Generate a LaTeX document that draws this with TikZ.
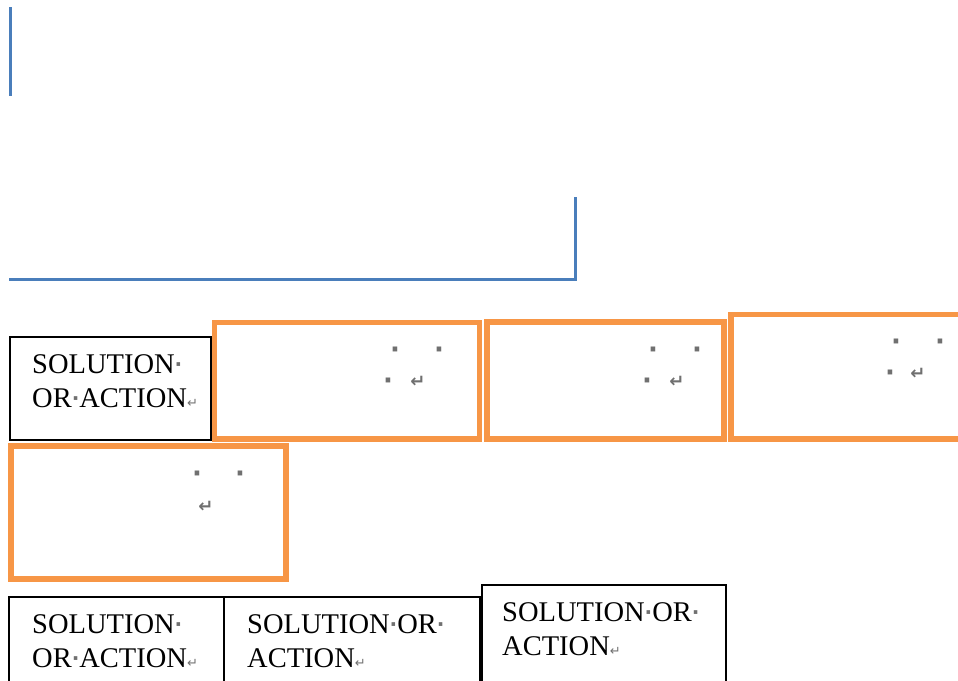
\documentclass[tikz,border=0pt]{standalone}
\usepackage{fontspec}
\setmainfont{Liberation Serif}
\newfontfamily\symfont{DejaVu Sans}
\definecolor{wordorange}{HTML}{F79646}
\definecolor{wordblue}{HTML}{4A7EBB}
\definecolor{fmtgray}{HTML}{707070}
% formatting marks: space dot and paragraph return
\newcommand{\spcmark}{{\color{fmtgray}\symfont\bfseries\fontsize{20}{20}\selectfont\raisebox{2pt}{·}}}
\newcommand{\retmark}{{\color{fmtgray}\symfont\fontsize{13}{13}\selectfont ↵}}
\tikzset{
  guide/.style={draw=wordblue, line width=3pt},
  tablebox/.style={draw=black, line width=2pt, rectangle, inner sep=0pt, outer sep=0pt, anchor=north west},
  framebox/.style={draw=wordorange, line width=5.5pt, rectangle, inner sep=0pt, outer sep=0pt, anchor=north west},
  cellline/.style={anchor=base west, inner sep=0pt, font=\fontsize{28.5}{34}\selectfont},
  dotmark/.style={anchor=base, inner sep=0pt, text=fmtgray, font=\symfont\bfseries\fontsize{26}{26}\selectfont},
  retsign/.style={anchor=center, inner sep=0pt, text=fmtgray, font=\symfont\bfseries\fontsize{18}{18}\selectfont},
}
\begin{document}
\begin{tikzpicture}[x=1pt, y=-1pt]
\useasboundingbox (0,0) rectangle (958,680);
\clip (0,0) rectangle (958,680);

% blue guide lines
\coordinate (g1a) at (10,7);
\coordinate (g1b) at (10,96);
\coordinate (g2a) at (9,279);
\coordinate (g2b) at (575,279);
\coordinate (g2c) at (575,197);
\draw[guide] (g1a) -- (g1b);
\draw[guide] (g2a) -- (g2b);
\draw[guide] (g2b) ++(0,1.5) -- (g2c);

% first row
\node[tablebox, minimum width=201pt, minimum height=103pt] (cell1) at (10,337) {};
\node[cellline] (cell1a) at (32,373) {SOLUTION\spcmark};
\node[cellline] (cell1b) at (32,407) {OR\spcmark ACTION\retmark};

\node[framebox, minimum width=265pt, minimum height=116.5pt] (frame1) at (214.5,322.5) {};
\node[framebox, minimum width=237pt, minimum height=117pt] (frame2) at (487,322) {};
\node[framebox, minimum width=260pt, minimum height=124.5pt] (frame3) at (731,314.5) {};
\node[framebox, minimum width=275pt, minimum height=133pt] (frame4) at (11,446) {};

% formatting marks inside the orange frames
\node[dotmark] (f1d1) at (395,358.5) {·};
\node[dotmark] (f1d2) at (439,358.5) {·};
\node[dotmark] (f1d3) at (388,389.5) {·};
\node[retsign] (f1r) at (418,382) {↵};

\node[dotmark] (f2d1) at (653,358.5) {·};
\node[dotmark] (f2d2) at (697,358.5) {·};
\node[dotmark] (f2d3) at (647,389.5) {·};
\node[retsign] (f2r) at (677,382) {↵};

\node[dotmark] (f3d1) at (896,350.5) {·};
\node[dotmark] (f3d2) at (940,350.5) {·};
\node[dotmark] (f3d3) at (890,381.5) {·};
\node[retsign] (f3r) at (918,374) {↵};

\node[dotmark] (f4d1) at (197,482.5) {·};
\node[dotmark] (f4d2) at (240,482.5) {·};
\node[retsign] (f4r) at (206,507) {↵};

% bottom row
\node[tablebox, minimum width=215pt, minimum height=110pt] (cellA) at (9,597) {};
\node[tablebox, minimum width=256pt, minimum height=110pt] (cellB) at (224,597) {};
\node[tablebox, minimum width=244pt, minimum height=120pt] (cellC) at (481.5,585) {};

\node[cellline] (cellAa) at (32,633) {SOLUTION\spcmark};
\node[cellline] (cellAb) at (32,667) {OR\spcmark ACTION\retmark};
\node[cellline] (cellBa) at (247,633) {SOLUTION\spcmark OR\spcmark};
\node[cellline] (cellBb) at (247,667) {ACTION\retmark};
\node[cellline] (cellCa) at (502,621) {SOLUTION\spcmark OR\spcmark};
\node[cellline] (cellCb) at (502,655) {ACTION\retmark};
\end{tikzpicture}
\end{document}
